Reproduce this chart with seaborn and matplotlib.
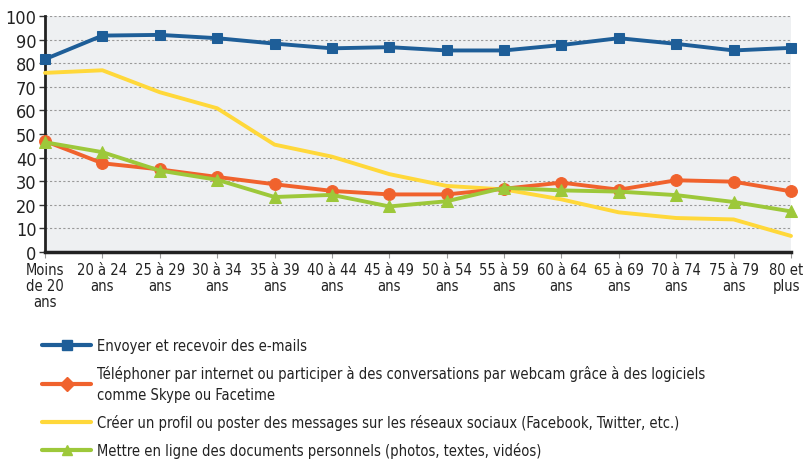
import matplotlib
matplotlib.use("Agg")
import matplotlib.pyplot as plt
import matplotlib.transforms as mtransforms
import seaborn as sns
import pandas as pd
from matplotlib.lines import Line2D

categories = ["Moins\nde 20\nans", "20 à 24\nans", "25 à 29\nans", "30 à 34\nans", "35 à 39\nans",
              "40 à 44\nans", "45 à 49\nans", "50 à 54\nans", "55 à 59\nans", "60 à 64\nans",
              "65 à 69\nans", "70 à 74\nans", "75 à 79\nans", "80 et\nplus"]
emails = [81.7, 91.7, 92.0, 90.6, 88.3, 86.3, 86.8, 85.4, 85.4, 87.7, 90.6, 88.2, 85.4, 86.5]
telephoner = [47.0, 37.6, 35.0, 31.8, 28.7, 25.9, 24.4, 24.4, 26.8, 29.4, 26.4, 30.4, 29.8, 25.7]
reseaux = [75.9, 77.0, 67.7, 60.9, 45.5, 40.4, 33.0, 28.0, 26.5, 22.3, 16.8, 14.4, 13.8, 6.8]
documents = [46.5, 42.3, 34.5, 30.6, 23.3, 24.2, 19.3, 21.5, 27.2, 26.1, 25.6, 24.1, 21.2, 17.2]

labels = ["Envoyer et recevoir des e-mails",
          "Téléphoner par internet ou participer à des conversations par webcam grâce à des logiciels\ncomme Skype ou Facetime",
          "Créer un profil ou poster des messages sur les réseaux sociaux (Facebook, Twitter, etc.)",
          "Mettre en ligne des documents personnels (photos, textes, vidéos)"]
colors = ["#1E5E98", "#F0622D", "#FFD83A", "#9DC83A"]
markers = ["s", "o", None, "^"]

sns.set_theme(style="white")
plt.rcParams["font.family"] = ["DejaVu Sans"]
plt.rcParams["font.stretch"] = "condensed"

fig = plt.figure(figsize=(8.06, 4.64), dpi=100)
ax = fig.add_axes([45 / 806, 1 - 253 / 464, (791 - 45) / 806, (253 - 17) / 464])
ax.set_facecolor("#EEF0F2")

x = list(range(len(categories)))
series = [emails, telephoner, reseaux, documents]
order = [2, 1, 3, 0]
for i in order:
    df = pd.DataFrame({"x": x, "y": series[i]})
    kw = {}
    if markers[i]:
        kw = dict(marker=markers[i], markersize=7.5 if markers[i] == "s" else 8.5,
                  markeredgecolor=colors[i], markerfacecolor=colors[i])
    sns.lineplot(data=df, x="x", y="y", ax=ax, color=colors[i], linewidth=2.8,
                 clip_on=False, zorder=3, **kw)

ax.set_xlim(0, 13)
ax.set_ylim(0, 100)
ax.set_yticks(range(0, 101, 10))
ax.set_xticks(x)
ax.set_xticklabels(categories, fontsize=10.5, linespacing=1.1, color="#222222")
ax.tick_params(axis="y", labelsize=13, length=4, width=1, color="#333333", pad=2, left=True,
               labelcolor="#222222")
ax.tick_params(axis="x", length=4, width=0.8, color="#999999", pad=3, bottom=True)
ax.yaxis.grid(True, linestyle=(0, (2, 2)), color="#999999", linewidth=0.8)
ax.set_axisbelow(True)
ax.set_xlabel("")
ax.set_ylabel("")
for s in ["top", "right"]:
    ax.spines[s].set_visible(False)
ax.spines["left"].set_color("#222222")
ax.spines["left"].set_linewidth(2)
ax.spines["bottom"].set_color("#222222")
ax.spines["bottom"].set_linewidth(2.5)

last = ax.get_xticklabels()[-1]
last.set_transform(last.get_transform() + mtransforms.ScaledTranslation(-5 / 100, 0, fig.dpi_scale_trans))

handles = []
for i in range(4):
    handles.append(Line2D([0], [0], color=colors[i], linewidth=3,
                          marker={"s": "s", "o": "D", "^": "^"}.get(markers[i]) if markers[i] else None,
                          markersize=7, markerfacecolor=colors[i], markeredgecolor=colors[i]))
leg = fig.legend(handles, labels, loc="upper left", bbox_to_anchor=(36 / 806, 1 - 333 / 464),
                 frameon=False, fontsize=10.5, handlelength=3.4, handletextpad=0.35,
                 labelspacing=0.85, borderaxespad=0)
for t in leg.get_texts():
    t.set_color("#222222")
    t.set_linespacing(1.45)
fig.savefig("out.png", dpi=100)
